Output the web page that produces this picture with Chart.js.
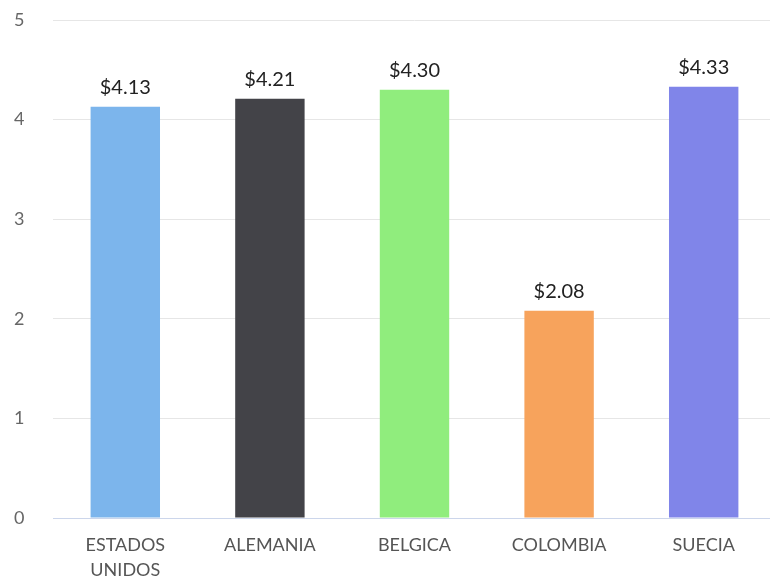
<!DOCTYPE html>
<html><head><meta charset="utf-8">
<script src="https://cdn.jsdelivr.net/npm/chart.js@4"></script>
<style>html,body{margin:0;padding:0;background:#fff;overflow:hidden}#w{width:776px;height:579px;position:relative}</style>
</head><body><div id="w"><canvas id="c"></canvas></div>
<script>
const categories = [['ESTADOS','UNIDOS'], 'ALEMANIA', 'BELGICA', 'COLOMBIA', 'SUECIA'];
const values = [4.13, 4.21, 4.30, 2.08, 4.33];
const colors = ['#7cb5ec', '#434348', '#90ed7d', '#f7a35c', '#8085e9'];
const yTicks = [0, 1, 2, 3, 4, 5];
const FONT = "Lato, 'Open Sans', sans-serif";

const labelPlugin = {
  id: 'vlabels',
  afterDatasetsDraw(chart) {
    const ctx = chart.ctx;
    const meta = chart.getDatasetMeta(0);
    ctx.save();
    ctx.font = "20px " + FONT;
    ctx.fillStyle = '#222222';
    ctx.textAlign = 'center';
    ctx.textBaseline = 'alphabetic';
    meta.data.forEach((bar, i) => {
      ctx.fillText('$' + values[i].toFixed(2), bar.x, bar.y - 13);
    });
    ctx.restore();
  }
};

new Chart(document.getElementById('c'), {
  type: 'bar',
  data: {
    labels: categories,
    datasets: [{ data: values, backgroundColor: colors, categoryPercentage: 1, barPercentage: 0.48 }]
  },
  options: {
    responsive: true, maintainAspectRatio: false, animation: false,
    layout: { padding: { top: 20, left: 14, right: 0, bottom: 0 } },
    plugins: { legend: { display: false }, tooltip: { enabled: false } },
    scales: {
      x: {
        grid: { display: false },
        border: { color: '#ccd6eb', width: 1 },
        ticks: { color: '#555555', font: { family: FONT, size: 18, lineHeight: 1.38 }, padding: 7, maxRotation: 0, autoSkip: false },
        afterFit(s) { s.height = 61; }
      },
      y: {
        min: 0, max: 5,
        afterBuildTicks(s) { s.ticks = yTicks.map(v => ({ value: v })); },
        grid: { color: '#e6e6e6', lineWidth: 1, drawTicks: false },
        border: { display: false },
        ticks: { color: '#666666', font: { family: FONT, size: 18 }, padding: 0, crossAlign: 'far' },
        afterFit(s) { s.width = 39; }
      }
    }
  },
  plugins: [labelPlugin]
});
</script></body></html>
